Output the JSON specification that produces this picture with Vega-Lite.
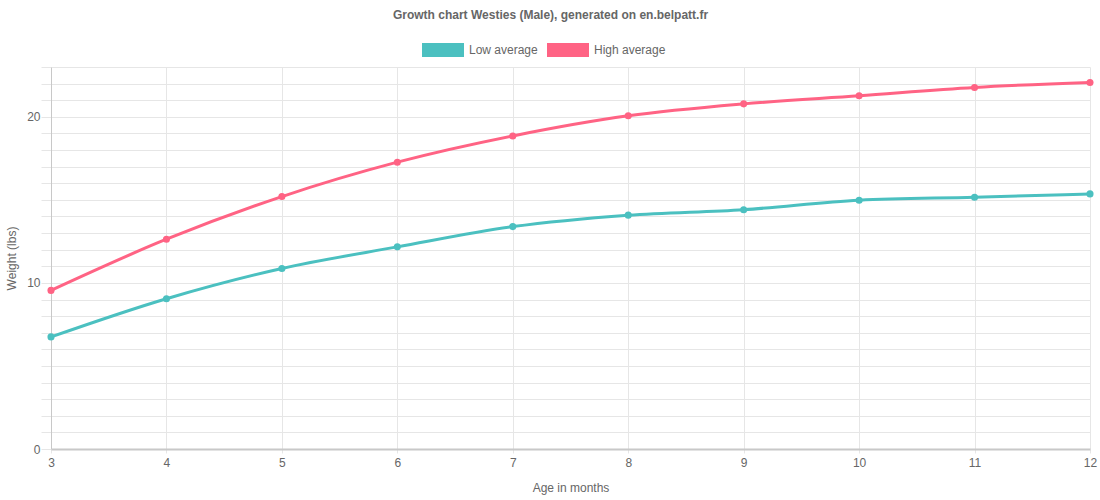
{
  "$schema": "https://vega.github.io/schema/vega-lite/v6.json",
  "width": 1039,
  "height": 382,
  "autosize": {"type": "none"},
  "padding": {"left": 51, "top": 67, "right": 10, "bottom": 51},
  "background": "white",
  "title": {
    "text": "Growth chart Westies (Male), generated on en.belpatt.fr",
    "anchor": "middle",
    "dx": -20,
    "dy": 18,
    "offset": 25,
    "font": "Liberation Sans",
    "fontSize": 12,
    "fontWeight": "bold",
    "color": "#666666"
  },
  "data": {
    "values": [
      {"age": 3, "series": "Low average", "weight": 6.75},
      {"age": 4, "series": "Low average", "weight": 9.05},
      {"age": 5, "series": "Low average", "weight": 10.87},
      {"age": 6, "series": "Low average", "weight": 12.17},
      {"age": 7, "series": "Low average", "weight": 13.39},
      {"age": 8, "series": "Low average", "weight": 14.08},
      {"age": 9, "series": "Low average", "weight": 14.41},
      {"age": 10, "series": "Low average", "weight": 14.98},
      {"age": 11, "series": "Low average", "weight": 15.16},
      {"age": 12, "series": "Low average", "weight": 15.36},
      {"age": 3, "series": "High average", "weight": 9.55},
      {"age": 4, "series": "High average", "weight": 12.63},
      {"age": 5, "series": "High average", "weight": 15.2},
      {"age": 6, "series": "High average", "weight": 17.27},
      {"age": 7, "series": "High average", "weight": 18.85},
      {"age": 8, "series": "High average", "weight": 20.06},
      {"age": 9, "series": "High average", "weight": 20.78},
      {"age": 10, "series": "High average", "weight": 21.27},
      {"age": 11, "series": "High average", "weight": 21.77},
      {"age": 12, "series": "High average", "weight": 22.07}
    ]
  },
  "mark": {
    "type": "line",
    "interpolate": "monotone",
    "strokeWidth": 3,
    "point": {"filled": true, "size": 50, "opacity": 1}
  },
  "encoding": {
    "x": {
      "field": "age",
      "type": "quantitative",
      "title": "Age in months",
      "scale": {"domain": [3, 12], "nice": false, "zero": false},
      "axis": {
        "values": [3, 4, 5, 6, 7, 8, 9, 10, 11, 12],
        "format": "d",
        "grid": true,
        "gridColor": "#e6e6e6",
        "tickColor": "#e6e6e6",
        "tickSize": 4,
        "domainColor": "#c8c8c8",
        "domainWidth": 2,
        "labelFlush": false,
        "labelPadding": 4,
        "labelFont": "Liberation Sans",
        "labelFontSize": 12,
        "labelColor": "#666666",
        "titleFont": "Liberation Sans",
        "titleFontSize": 12,
        "titleFontWeight": "normal",
        "titleColor": "#666666",
        "titlePadding": 14
      }
    },
    "y": {
      "field": "weight",
      "type": "quantitative",
      "title": "Weight (lbs)",
      "scale": {"domain": [0, 23], "nice": false},
      "axis": {
        "values": [0, 1, 2, 3, 4, 5, 6, 7, 8, 9, 10, 11, 12, 13, 14, 15, 16, 17, 18, 19, 20, 21, 22, 23],
        "labelExpr": "datum.value % 10 === 0 ? datum.label : ''",
        "grid": true,
        "gridColor": "#e6e6e6",
        "tickColor": "#e6e6e6",
        "tickSize": 10,
        "domainColor": "#c8c8c8",
        "labelFlush": false,
        "labelPadding": 1,
        "labelFont": "Liberation Sans",
        "labelFontSize": 12,
        "labelColor": "#666666",
        "titleFont": "Liberation Sans",
        "titleFontSize": 12,
        "titleFontWeight": "normal",
        "titleColor": "#666666",
        "titlePadding": 8
      }
    },
    "color": {
      "field": "series",
      "type": "nominal",
      "scale": {
        "domain": ["Low average", "High average"],
        "range": ["#4bc0c0", "#ff6384"]
      },
      "legend": {
        "title": null,
        "orient": "none",
        "direction": "horizontal",
        "legendX": 371,
        "legendY": -38,
        "symbolType": "M-1,-0.33H1V0.33H-1Z",
        "symbolSize": 1764,
        "symbolStrokeWidth": 0,
        "symbolOpacity": 1,
        "labelFont": "Liberation Sans",
        "labelFontSize": 12,
        "labelColor": "#666666",
        "labelOffset": 5,
        "columnPadding": 9
      }
    }
  },
  "config": {
    "view": {"stroke": null}
  }
}
